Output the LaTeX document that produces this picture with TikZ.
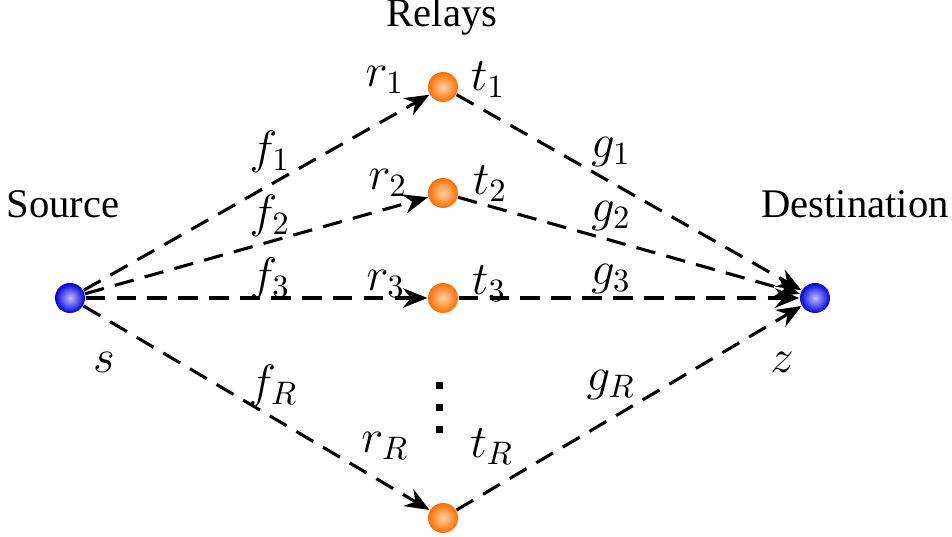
\documentclass[tikz,border=0pt]{standalone}
\usepackage{fontspec}
\setmainfont{Liberation Serif}
\usetikzlibrary{arrows.meta}
\begin{document}
\begin{tikzpicture}[x=0.0108cm,y=-0.0108cm,
  bluenode/.style={circle,minimum size=30*0.0108cm,inner sep=0pt,inner color=blue!25!white,outer color=blue!85!black,draw=none},
  orangenode/.style={circle,minimum size=30*0.0108cm,inner sep=0pt,inner color=orange!35!white,outer color=orange!85!red,draw=none},
  link/.style={dashed,dash pattern=on 6pt off 3.5pt,line width=0.95pt,-{Stealth[length=7.5pt,width=6pt]}},
  lbl/.style={font=\fontsize{12.5}{15}\selectfont,inner sep=1pt},
  mlbl/.style={font=\fontsize{14.3}{17}\selectfont},
  dotsq/.style={fill=black,minimum size=7*0.0108cm,inner sep=0pt,draw=none}]
\useasboundingbox (0,0) rectangle (952,537);
\node[bluenode] (s) at (70,298) {};
\node[bluenode] (z) at (815,298) {};
\node[orangenode] (r1) at (443,87) {};
\node[orangenode] (r2) at (443,193) {};
\node[orangenode] (r3) at (443,298) {};
\node[orangenode] (rR) at (443,518) {};
\foreach \r in {r1,r2,r3,rR}{
  \draw[link] (s) -- (\r);
  \draw[link] (\r) -- (z);
}
\node[lbl,anchor=base] (relays) at (442,27) {Relays};
\node[lbl,anchor=base] (source) at (63,218) {Source};
\node[lbl,anchor=base] (dest) at (855,218) {Destination};
\node[mlbl] (ls) at (104,362) {$s$};
\node[mlbl] (lz) at (782,362) {$z$};
\node[mlbl] (lr1) at (385,80) {$r_1$};
\node[mlbl] (lt1) at (488,80) {$t_1$};
\node[mlbl] (lr2) at (388,183) {$r_2$};
\node[mlbl] (lt2) at (490,184) {$t_2$};
\node[mlbl] (lr3) at (386,284) {$r_3$};
\node[mlbl] (lt3) at (489,284) {$t_3$};
\node[mlbl] (lrR) at (385,446) {$r_R$};
\node[mlbl] (ltR) at (492,447) {$t_R$};
\node[mlbl] (lf1) at (270,152) {$f_1$};
\node[mlbl] (lf2) at (270,216) {$f_2$};
\node[mlbl] (lf3) at (270,279) {$f_3$};
\node[mlbl] (lfR) at (273,386) {$f_R$};
\node[mlbl] (lg1) at (611,152) {$g_1$};
\node[mlbl] (lg2) at (611,216) {$g_2$};
\node[mlbl] (lg3) at (611,279) {$g_3$};
\node[mlbl] (lgR) at (611,385) {$g_R$};
\node[dotsq] (d1) at (440,386) {};
\node[dotsq] (d2) at (440,408) {};
\node[dotsq] (d3) at (440,430) {};
\end{tikzpicture}
\end{document}
